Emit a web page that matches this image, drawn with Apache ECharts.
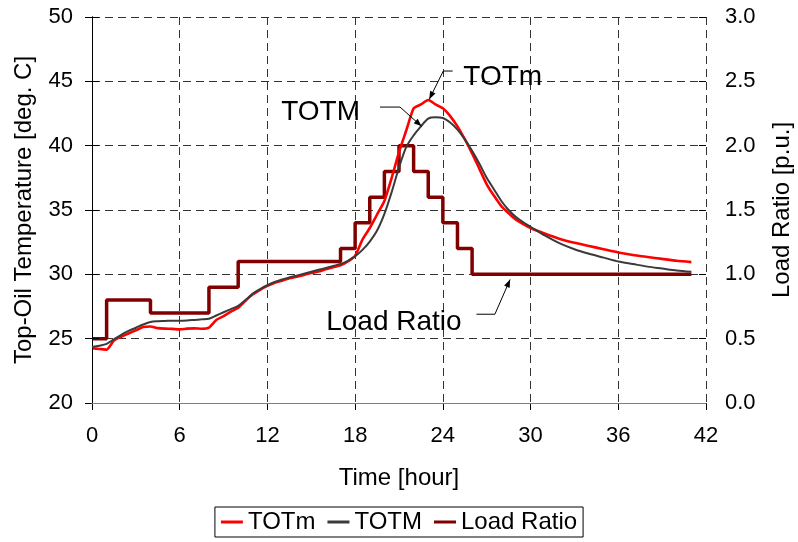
<!DOCTYPE html>
<html>
<head>
<meta charset="utf-8">
<script src="https://cdn.jsdelivr.net/npm/echarts@6/dist/echarts.min.js"></script>
<style>
  html, body { margin: 0; padding: 0; background: #fff; }
  #chart { width: 798px; height: 542px; }
</style>
</head>
<body>
<div id="chart"></div>
<script>
// Time axis (hours) shared by the measured and modelled top-oil temperatures
const hours = [
  0, 0.5, 1, 1.5, 2, 2.5, 3, 3.5, 4, 4.5, 5, 5.5, 6, 6.5, 7, 7.5, 8, 8.5, 9, 9.5,
  10, 10.5, 11, 11.5, 12, 12.5, 13, 13.5, 14, 14.5, 15, 15.5, 16, 16.5, 17, 17.5,
  18, 18.5, 19, 19.5, 20, 20.5, 21, 21.5, 22, 22.5, 23, 23.5, 24, 24.5, 25, 25.5,
  26, 26.5, 27, 27.5, 28, 28.5, 29, 29.5, 30, 31, 32, 33, 34, 35, 36, 37, 38, 39, 40, 41
];

// Measured top-oil temperature TOTm [deg. C]
const totMeasured = [
  24.25, 24.2, 24.15, 24.85, 25.15, 25.4, 25.65, 25.9, 25.95, 25.82, 25.78, 25.76, 25.72, 25.78, 25.8, 25.77, 25.85, 26.45, 26.75, 27.1,
  27.4, 27.95, 28.45, 28.8, 29.1, 29.35, 29.5, 29.7, 29.82, 29.95, 30.1, 30.22, 30.4, 30.55, 30.7, 31.0,
  31.45, 32.7, 33.6, 34.65, 35.7, 37.5, 39.5, 41.2, 42.9, 43.2, 43.55, 43.2, 42.9, 42.3, 41.5, 40.5,
  39.4, 38.2, 37.0, 36.1, 35.3, 34.75, 34.25, 33.9, 33.6, 33.15, 32.75, 32.45, 32.2, 31.95, 31.7, 31.5, 31.35, 31.2, 31.05, 30.95
];

// Modelled top-oil temperature TOTM [deg. C]
const totModel = [
  24.35, 24.45, 24.6, 24.95, 25.3, 25.6, 25.85, 26.1, 26.3, 26.36, 26.38, 26.4, 26.4, 26.42, 26.46, 26.5, 26.55, 26.8, 27.05, 27.3,
  27.55, 28.0, 28.5, 28.85, 29.15, 29.4, 29.6, 29.75, 29.9, 30.05, 30.2, 30.35, 30.5, 30.65, 30.8, 31.05,
  31.4, 31.9, 32.55, 33.4, 34.7, 36.4, 38.3, 39.9, 40.8, 41.5, 42.1, 42.2, 42.15, 41.8, 41.25, 40.5,
  39.6, 38.6, 37.5, 36.6, 35.7, 35.0, 34.45, 34.05, 33.7, 33.0, 32.4, 31.95, 31.6, 31.3, 31.0, 30.8, 30.6, 30.45, 30.3, 30.2
];

// Load profile: ratio [p.u.] held from each start hour until the next one
const loadHours = [0, 1, 4, 8, 10, 17, 18, 19, 20, 21, 22, 23, 24, 25, 26, 41];
const loadRatio = [0.5, 0.8, 0.7, 0.9, 1.1, 1.2, 1.4, 1.6, 1.8, 2.0, 1.8, 1.6, 1.4, 1.2, 1.0, 1.0];

const seriesNames = ['TOTm', 'TOTM', 'Load Ratio'];
const leftTicks = { min: 20, max: 50, step: 5 };
const rightTicks = { min: 0, max: 3, step: 0.5 };
const timeTicks = { min: 0, max: 42, step: 6 };

const FONT = "'Liberation Sans', Arial, sans-serif";
const pair = (xs, ys) => xs.map((x, i) => [x, ys[i]]);

const chart = echarts.init(document.getElementById('chart'), null, { renderer: 'canvas' });

const dashed = { color: '#333', width: 1, type: [8, 5] };

chart.setOption({
  animation: false,
  backgroundColor: '#fff',
  grid: { left: 92, right: 92, top: 17, bottom: 139, show: false, containLabel: false, outerBoundsMode: 'none' },
  legend: {
    data: seriesNames,
    left: 'center',
    top: 507,
    icon: 'rect',
    itemWidth: 22,
    itemHeight: 3,
    itemGap: 12,
    padding: [3, 6],
    borderColor: '#000',
    borderWidth: 1,
    textStyle: { fontFamily: FONT, fontSize: 24, color: '#000' }
  },
  xAxis: [
    {
      type: 'value',
      min: timeTicks.min, max: timeTicks.max, interval: timeTicks.step,
      name: 'Time [hour]',
      nameLocation: 'middle',
      nameGap: 63,
      nameTextStyle: { fontFamily: FONT, fontSize: 24, color: '#000' },
      axisLine: { show: true, lineStyle: { color: '#000', width: 1 } },
      axisTick: { show: true, length: 7, lineStyle: { color: '#000' } },
      axisLabel: { fontFamily: FONT, fontSize: 22, color: '#000', margin: 22 },
      splitLine: { show: true, lineStyle: dashed }
    },
    {
      // top frame line
      type: 'value', position: 'top', z: 5,
      min: timeTicks.min, max: timeTicks.max, interval: timeTicks.step,
      axisLine: { show: true, lineStyle: { color: '#808080', width: 1 } },
      axisTick: { show: false }, axisLabel: { show: false }, splitLine: { show: false }
    }
  ],
  yAxis: [
    {
      type: 'value', position: 'left',
      min: leftTicks.min, max: leftTicks.max, interval: leftTicks.step,
      name: 'Top-Oil Temperature [deg. C]',
      nameLocation: 'middle',
      nameGap: 56,
      nameTextStyle: { fontFamily: FONT, fontSize: 24, color: '#000' },
      axisLine: { show: true, lineStyle: { color: '#000', width: 1 } },
      axisTick: { show: true, length: 7, lineStyle: { color: '#000' } },
      axisLabel: { fontFamily: FONT, fontSize: 22, color: '#000', margin: 19 },
      splitLine: { show: true, lineStyle: dashed }
    },
    {
      type: 'value', position: 'right', z: 4,
      min: rightTicks.min, max: rightTicks.max, interval: rightTicks.step,
      name: 'Load Ratio [p.u.]',
      nameLocation: 'middle',
      nameGap: 64,
      nameTextStyle: { fontFamily: FONT, fontSize: 24, color: '#000' },
      axisLine: { show: true, lineStyle: { color: '#000', width: 1 } },
      axisTick: { show: true, length: 7, lineStyle: { color: '#000' } },
      axisLabel: {
        fontFamily: FONT, fontSize: 22, color: '#000', margin: 19,
        formatter: v => v.toFixed(1)
      },
      splitLine: { show: false }
    },
    {
      // inner half of the crossing ticks on the right axis
      type: 'value', position: 'right', z: 4,
      min: rightTicks.min, max: rightTicks.max, interval: rightTicks.step,
      axisLine: { show: false },
      axisTick: { show: true, inside: true, length: 7, lineStyle: { color: '#000' } },
      axisLabel: { show: false },
      splitLine: { show: false }
    }
  ],
  series: [
    {
      name: 'TOTm', type: 'line', xAxisIndex: 0, yAxisIndex: 0, z: 3,
      data: pair(hours, totMeasured),
      showSymbol: false, smooth: 0.2,
      itemStyle: { color: '#ff0000' },
      lineStyle: { color: '#ff0000', width: 2.6 }
    },
    {
      name: 'TOTM', type: 'line', xAxisIndex: 0, yAxisIndex: 0, z: 4,
      data: pair(hours, totModel),
      showSymbol: false, smooth: 0.3,
      itemStyle: { color: '#3a3a3a' },
      lineStyle: { color: '#3a3a3a', width: 2 }
    },
    {
      name: 'Load Ratio', type: 'line', xAxisIndex: 0, yAxisIndex: 1, z: 2,
      data: pair(loadHours, loadRatio),
      step: 'end',
      showSymbol: false,
      itemStyle: { color: '#800000' },
      lineStyle: { color: '#800000', width: 3.5 }
    }
  ]
});

// Callout labels with leader arrows, anchored in (hour, deg. C) coordinates
const callouts = [
  { text: 'TOTm',       at: [25.4, 45.3], align: 'left',   leader: [[24.67, 45.8], [24.03, 45.8], [23.07, 43.6]] },
  { text: 'TOTM',       at: [18.33, 42.6], align: 'right', leader: [[19.7, 43.0], [21.07, 43.0], [22.55, 41.5]] },
  { text: 'Load Ratio', at: [20.65, 26.3], align: 'center', leader: [[26.3, 26.9], [27.56, 26.9], [28.6, 29.6]] }
];

const toPx = p => chart.convertToPixel({ xAxisIndex: 0, yAxisIndex: 0 }, p);
const graphics = [];
callouts.forEach(c => {
  const pos = toPx(c.at);
  graphics.push({
    type: 'text', x: pos[0], y: pos[1], z: 10,
    style: {
      text: c.text, fontFamily: FONT, fontSize: 28, fill: '#000',
      align: c.align, verticalAlign: 'middle'
    }
  });
  const pts = c.leader.map(toPx);
  graphics.push({
    type: 'polyline', z: 10,
    shape: { points: pts },
    style: { stroke: '#000', lineWidth: 1, fill: null }
  });
  const tip = pts[pts.length - 1];
  const prev = pts[pts.length - 2];
  const ang = Math.atan2(tip[1] - prev[1], tip[0] - prev[0]);
  const len = 8, half = 3;
  const bx = tip[0] - len * Math.cos(ang), by = tip[1] - len * Math.sin(ang);
  graphics.push({
    type: 'polygon', z: 10,
    shape: { points: [
      tip,
      [bx + half * Math.sin(ang), by - half * Math.cos(ang)],
      [bx - half * Math.sin(ang), by + half * Math.cos(ang)]
    ] },
    style: { fill: '#000', stroke: null }
  });
});
chart.setOption({ graphic: graphics });
</script>
</body>
</html>
